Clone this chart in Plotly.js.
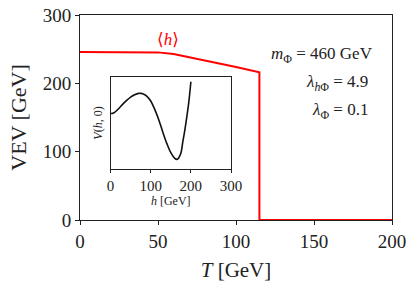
<!DOCTYPE html>
<html>
<head>
<meta charset="utf-8">
<script src="https://cdn.plot.ly/plotly-3.0.1.min.js"></script>
<style>html,body{margin:0;padding:0;background:#fff;}#chart{width:416px;height:290px;}</style>
</head>
<body>
<div id="chart"></div>
<script>
// Main panel: VEV vs temperature
const T_vals = [0, 40, 50, 60, 70, 80, 100, 115, 115, 200];
const vev_vals = [246, 246, 245.3, 243, 238.5, 234, 224, 216, 0, 0];
// Inset: potential V(h,0) (arbitrary units)
const h_vals = [0, 5, 10, 20, 30, 40, 50, 60, 70, 75, 80, 90, 100, 110, 120, 130, 140, 150, 160, 165, 170, 175, 180, 185, 190, 195, 200];
const V_vals = [168, 168, 171, 182, 195, 207, 217, 224, 228, 228, 227, 220, 205, 180, 149, 112, 78, 50, 33, 30, 35, 48, 83, 118, 158, 203, 263];
const mainXTicks = [0, 50, 100, 150, 200];
const mainYTicks = [0, 100, 200, 300];
const insetXTicks = [0, 100, 200, 300];

const F = "Liberation Serif, DejaVu Serif, serif";
const ink = "#222";

const traces = [
  {x: T_vals, y: vev_vals, type: "scatter", mode: "lines", line: {color: "#ff0000", width: 2}, cliponaxis: false, xaxis: "x", yaxis: "y", hoverinfo: "skip"},
  {x: h_vals, y: V_vals, type: "scatter", mode: "lines", line: {color: "#111", width: 1.6, shape: "spline", smoothing: 1}, xaxis: "x2", yaxis: "y2", hoverinfo: "skip"}
];

const layout = {
  width: 416, height: 290,
  margin: {l: 80, r: 24, t: 15, b: 70},
  paper_bgcolor: "#fff", plot_bgcolor: "#fff",
  showlegend: false,
  font: {family: F, color: ink},
  xaxis: {
    range: [0, 200], tickvals: mainXTicks, ticktext: mainXTicks.map(String),
    showgrid: false, zeroline: false, showline: true, mirror: true, linecolor: ink, linewidth: 1,
    ticks: "outside", ticklen: 4, tickcolor: ink, tickfont: {family: F, size: 19, color: ink},
    title: {text: "<i>T</i> [GeV]", font: {family: F, size: 21, color: ink}, standoff: 11}
  },
  yaxis: {
    range: [0, 300], tickvals: mainYTicks, ticktext: mainYTicks.map(String),
    showgrid: false, zeroline: false, showline: true, mirror: true, linecolor: ink, linewidth: 1,
    ticks: "outside", ticklen: 4, tickcolor: ink, tickfont: {family: F, size: 19, color: ink},
    title: {text: "VEV [GeV]", font: {family: F, size: 22, color: ink}, standoff: 10}
  },
  xaxis2: {
    domain: [0.098, 0.484], anchor: "y2", range: [0, 300], tickvals: insetXTicks, ticktext: insetXTicks.map(String),
    showgrid: false, zeroline: false, showline: true, mirror: true, linecolor: ink, linewidth: 1,
    ticks: "outside", ticklen: 3, tickcolor: ink, tickfont: {family: F, size: 15, color: ink},
    title: {text: "<i>h</i> [GeV]", font: {family: F, size: 12, color: ink}, standoff: 3}
  },
  yaxis2: {
    domain: [0.247, 0.699], anchor: "x2", range: [0, 278], showticklabels: false,
    showgrid: false, zeroline: false, showline: true, mirror: true, linecolor: ink, linewidth: 1,
    ticks: "",
    title: {text: "<i>V</i>(<i>h</i>, 0)", font: {family: F, size: 12, color: ink}, standoff: 4}
  },
  annotations: [
    {xref: "paper", yref: "paper", x: 0.282, y: 0.88, text: "⟨<i>h</i>⟩", showarrow: false, font: {family: F, size: 17, color: "#ff0000"}, xanchor: "center", yanchor: "middle"},
    {xref: "paper", yref: "paper", x: 0.947, y: 0.805, text: "<i>m</i><sub>Φ</sub> = 460 GeV", showarrow: false, font: {family: F, size: 17, color: ink}, xanchor: "right", yanchor: "middle"},
    {xref: "paper", yref: "paper", x: 0.93, y: 0.668, text: "<i>λ</i><sub><i>h</i>Φ</sub> = 4.9", showarrow: false, font: {family: F, size: 17, color: ink}, xanchor: "right", yanchor: "middle"},
    {xref: "paper", yref: "paper", x: 0.93, y: 0.533, text: "<i>λ</i><sub>Φ</sub> = 0.1", showarrow: false, font: {family: F, size: 17, color: ink}, xanchor: "right", yanchor: "middle"}
  ]
};

Plotly.newPlot("chart", traces, layout, {staticPlot: true, displayModeBar: false});
</script>
</body>
</html>
